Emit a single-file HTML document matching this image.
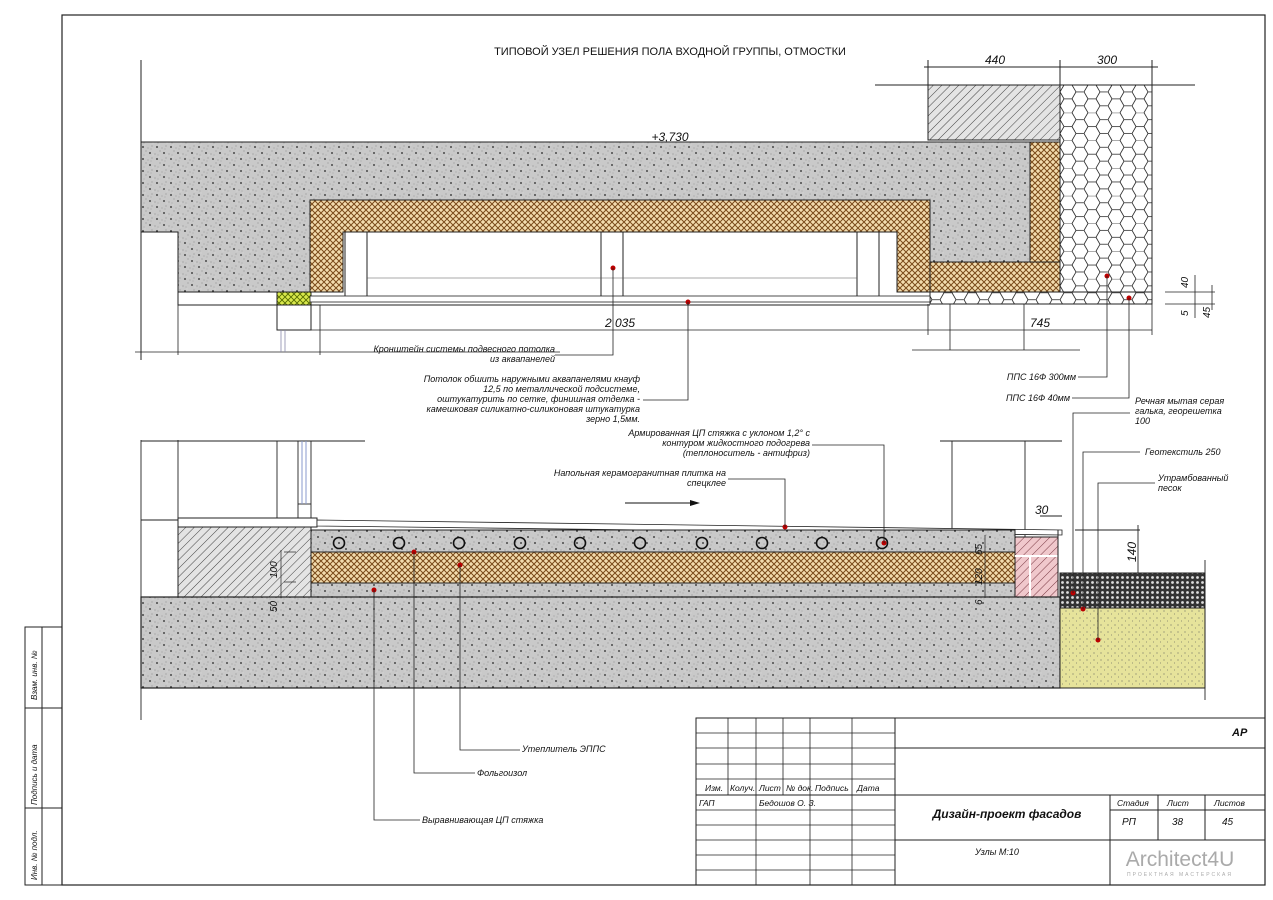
<!DOCTYPE html>
<html><head><meta charset="utf-8">
<style>
html,body{margin:0;padding:0;background:#fff;}
svg{display:block;}
text{font-family:"Liberation Sans","DejaVu Sans",sans-serif;font-style:italic;fill:#111;}
</style></head>
<body>
<svg width="1273" height="900" viewBox="0 0 1273 900" xmlns="http://www.w3.org/2000/svg">
<defs>
<pattern id="conc" width="14" height="12" patternUnits="userSpaceOnUse">
<rect width="14" height="12" fill="#c9c9c9"/>
<circle cx="3" cy="3" r="0.9" fill="#222"/><circle cx="10" cy="9" r="0.9" fill="#222"/>
<circle cx="6" cy="7" r="0.5" fill="#777"/><circle cx="12" cy="2" r="0.5" fill="#777"/><circle cx="1" cy="10" r="0.5" fill="#777"/><circle cx="8" cy="4" r="0.5" fill="#888"/>
<circle cx="4" cy="11" r="0.5" fill="#999"/><circle cx="11" cy="5" r="0.5" fill="#999"/><circle cx="13" cy="11" r="0.4" fill="#eee"/><circle cx="5" cy="1" r="0.4" fill="#eee"/>
</pattern>
<pattern id="ins" width="6" height="6" patternUnits="userSpaceOnUse">
<rect width="6" height="6" fill="#f3dcae"/>
<path d="M0 0L6 6M6 0L0 6" stroke="#7a4a1a" stroke-width="1"/>
</pattern>
<pattern id="ygr" width="6" height="6" patternUnits="userSpaceOnUse">
<rect width="6" height="6" fill="#d8e84a"/>
<path d="M0 0L6 6M6 0L0 6" stroke="#556b00" stroke-width="0.9"/>
</pattern>
<pattern id="hat" width="6" height="6" patternUnits="userSpaceOnUse" patternTransform="rotate(45)">
<rect width="6" height="6" fill="#e4e4e4"/><line x1="0" y1="0" x2="0" y2="6" stroke="#444" stroke-width="1"/>
</pattern>
<pattern id="brick" width="6" height="6" patternUnits="userSpaceOnUse" patternTransform="rotate(45)">
<rect width="6" height="6" fill="#f0c8cc"/><line x1="0" y1="0" x2="0" y2="6" stroke="#7a3a44" stroke-width="1"/>
</pattern>
<pattern id="hex" width="24" height="27.7" patternUnits="userSpaceOnUse" x="1060" y="85">
<rect width="24" height="27.7" fill="#fff"/>
<path d="M4 0L12 0L16 6.9L12 13.85L4 13.85L0 6.9Z M16 6.9L24 6.9 M12 13.85L16 20.8L12 27.7 M16 20.8L24 20.8 M4 13.85L0 20.8L4 27.7" fill="none" stroke="#222" stroke-width="0.8"/>
</pattern>
<pattern id="grav" width="5" height="5" patternUnits="userSpaceOnUse">
<rect width="5" height="5" fill="#333"/><circle cx="2.5" cy="2.5" r="1.4" fill="#ddd"/>
</pattern>
<pattern id="sand" width="7" height="7" patternUnits="userSpaceOnUse">
<rect width="7" height="7" fill="#e6e39b"/><circle cx="2" cy="2" r="0.6" fill="#776"/><circle cx="5.5" cy="5" r="0.5" fill="#776"/>
</pattern>
</defs>

<!-- frame -->
<rect x="62" y="15" width="1203" height="870" fill="none" stroke="#222" stroke-width="1.2"/>
<rect x="25" y="627" width="37" height="258" fill="none" stroke="#222" stroke-width="1"/>
<line x1="42" y1="627" x2="42" y2="885" stroke="#222"/>
<line x1="25" y1="708" x2="62" y2="708" stroke="#222"/>
<line x1="25" y1="808" x2="62" y2="808" stroke="#222"/>
<text transform="translate(37,700) rotate(-90)" font-size="8">Взам. инв. №</text>
<text transform="translate(37,805) rotate(-90)" font-size="8">Подпись и дата</text>
<text transform="translate(37,880) rotate(-90)" font-size="8">Инв. № подл.</text>

<text x="670" y="55" font-size="11" text-anchor="middle" style="font-style:normal">ТИПОВОЙ УЗЕЛ РЕШЕНИЯ ПОЛА ВХОДНОЙ ГРУППЫ, ОТМОСТКИ</text>

<!-- ===== TOP DRAWING ===== -->
<g stroke="#222" stroke-width="1" fill="none">
<line x1="141" y1="60" x2="141" y2="360"/>
<line x1="875" y1="85" x2="1195" y2="85"/>
<line x1="924" y1="67" x2="1158" y2="67"/>
<line x1="928" y1="60" x2="928" y2="85"/><line x1="1060" y1="60" x2="1060" y2="85"/><line x1="1152" y1="60" x2="1152" y2="85"/>
</g>
<text x="995" y="64" font-size="12" text-anchor="middle">440</text>
<text x="1107" y="64" font-size="12" text-anchor="middle">300</text>
<rect x="928" y="85" width="132" height="55" fill="url(#hat)" stroke="#222"/>
<rect x="1060" y="85" width="92" height="207" fill="url(#hex)" stroke="#222"/>
<rect x="930" y="292" width="222" height="12" fill="url(#hex)" stroke="#222"/>
<path d="M141 142H1030V262H930V200H310V292H178V232H141Z" fill="url(#conc)" stroke="#222"/>
<path d="M310 200H930V292H897V232H343V292H310Z" fill="url(#ins)" stroke="#222"/>
<path d="M930 262H1060V292H930Z M1030 142H1060V262H1030Z" fill="url(#ins)" stroke="#222"/>
<text x="670" y="141" font-size="12" text-anchor="middle">+3,730</text>
<g fill="#fff" stroke="#222">
<rect x="345" y="232" width="22" height="68"/><rect x="601" y="232" width="22" height="68"/><rect x="857" y="232" width="22" height="68"/>
<rect x="178" y="292" width="99" height="13"/>
<rect x="277" y="305" width="34" height="25"/>
</g>
<line x1="367" y1="278" x2="857" y2="278" stroke="#555" stroke-width="0.6"/>
<rect x="277" y="292" width="34" height="13" fill="url(#ygr)" stroke="#222"/>
<rect x="310" y="296" width="620" height="6" fill="#fff" stroke="#222" stroke-width="0.8"/>
<line x1="310" y1="305" x2="930" y2="305" stroke="#222"/>
<g stroke="#222" stroke-width="0.8" fill="none">
<line x1="178" y1="305" x2="178" y2="355"/><line x1="320" y1="305" x2="320" y2="355"/>
<line x1="311" y1="330" x2="1152" y2="330"/>
<line x1="928" y1="304" x2="928" y2="335"/><line x1="1152" y1="304" x2="1152" y2="335"/>
<line x1="950" y1="304" x2="950" y2="350"/><line x1="1024" y1="304" x2="1024" y2="350"/>
<line x1="135" y1="352" x2="560" y2="352"/>
<line x1="912" y1="350" x2="1080" y2="350"/>
<line x1="1165" y1="292" x2="1215" y2="292"/><line x1="1165" y1="304" x2="1215" y2="304"/>
<line x1="1195" y1="275" x2="1195" y2="318"/><line x1="1212" y1="285" x2="1212" y2="310"/>
<line x1="281" y1="330" x2="281" y2="352" stroke="#88a"/><line x1="285" y1="330" x2="285" y2="352" stroke="#88a"/>
</g>
<text x="620" y="327" font-size="12" text-anchor="middle">2 035</text>
<text x="1040" y="327" font-size="12" text-anchor="middle">745</text>
<text transform="translate(1188,288) rotate(-90)" font-size="10">40</text>
<text transform="translate(1188,316) rotate(-90)" font-size="10">5</text>
<text transform="translate(1210,318) rotate(-90)" font-size="10">45</text>
<g fill="#b00"><circle cx="613" cy="268" r="2.5"/><circle cx="688" cy="302" r="2.5"/><circle cx="1107" cy="276" r="2.5"/><circle cx="1129" cy="298" r="2.5"/></g>
<g stroke="#222" stroke-width="0.8" fill="none">
<polyline points="613,268 613,355 555,355"/>
<polyline points="688,302 688,400 643,400"/>
<polyline points="1107,276 1107,377 1078,377"/>
<polyline points="1129,298 1129,398 1072,398"/>
</g>
<text x="555" y="352" font-size="9" text-anchor="end">Кронштейн системы подвесного потолка</text>
<text x="555" y="362" font-size="9" text-anchor="end">из аквапанелей</text>
<g font-size="9" text-anchor="end">
<text x="640" y="382">Потолок обшить наружными аквапанелями кнауф</text>
<text x="640" y="392">12,5 по металлической подсистеме,</text>
<text x="640" y="402">оштукатурить по сетке, финишная отделка -</text>
<text x="640" y="412">камешковая силикатно-силиконовая штукатурка</text>
<text x="640" y="422">зерно 1,5мм.</text>
</g>
<text x="1076" y="380" font-size="9" text-anchor="end">ППС 16Ф 300мм</text>
<text x="1070" y="401" font-size="9" text-anchor="end">ППС 16Ф 40мм</text>

<!-- ===== BOTTOM DRAWING ===== -->
<g stroke="#222" stroke-width="0.9" fill="none">
<line x1="141" y1="440" x2="141" y2="720"/>
<line x1="178" y1="440" x2="178" y2="520"/>
<line x1="141" y1="441" x2="365" y2="441"/>
<line x1="277" y1="441" x2="277" y2="518"/>
<line x1="298" y1="441" x2="298" y2="518"/><line x1="311" y1="441" x2="311" y2="518"/>
<line x1="298" y1="504" x2="311" y2="504"/>
<line x1="141" y1="520" x2="178" y2="520"/>
<line x1="940" y1="441" x2="1062" y2="441"/>
<line x1="952" y1="441" x2="952" y2="595"/><line x1="1025" y1="441" x2="1025" y2="595"/>
<line x1="1075" y1="530" x2="1140" y2="530"/>
<line x1="1138" y1="525" x2="1138" y2="575"/>
<line x1="1205" y1="560" x2="1205" y2="700"/>
<line x1="1040" y1="516" x2="1062" y2="516"/>
</g>
<line x1="302" y1="441" x2="302" y2="504" stroke="#89c"/><line x1="306" y1="441" x2="306" y2="504" stroke="#89c"/>
<rect x="178" y="518" width="139" height="9" fill="#fff" stroke="#222"/>
<path d="M317 520L1062 530V535L317 526Z" fill="#fff" stroke="#222" stroke-width="0.8"/>
<rect x="178" y="527" width="133" height="70" fill="url(#hat)" stroke="#222"/>
<rect x="311" y="530" width="704" height="67" fill="url(#conc)" stroke="#222"/>
<rect x="311" y="552" width="704" height="31" fill="url(#ins)" stroke="#222"/>
<rect x="1015" y="537" width="43" height="60" fill="url(#brick)" stroke="#222"/>
<g stroke="#fff" stroke-width="2"><line x1="1015" y1="556" x2="1058" y2="556"/><line x1="1030" y1="556" x2="1030" y2="597"/></g>
<line x1="1058" y1="530" x2="1058" y2="597" stroke="#222"/>
<rect x="141" y="597" width="919" height="91" fill="url(#conc)" stroke="#222" stroke-width="1.2"/>
<rect x="1060" y="573" width="145" height="35" fill="url(#grav)" stroke="#222"/>
<rect x="1060" y="608" width="145" height="80" fill="url(#sand)" stroke="#222"/>
<g fill="none" stroke="#111" stroke-width="1.6">
<circle cx="339" cy="543" r="5.5"/><circle cx="399" cy="543" r="5.5"/><circle cx="459" cy="543" r="5.5"/><circle cx="520" cy="543" r="5.5"/><circle cx="580" cy="543" r="5.5"/><circle cx="640" cy="543" r="5.5"/><circle cx="702" cy="543" r="5.5"/><circle cx="762" cy="543" r="5.5"/><circle cx="822" cy="543" r="5.5"/><circle cx="882" cy="543" r="5.5"/>
</g>
<g stroke="#222" stroke-width="0.7" fill="none"><line x1="281" y1="550" x2="281" y2="598"/><line x1="284" y1="552" x2="296" y2="552"/><line x1="284" y1="582" x2="296" y2="582"/><line x1="985" y1="535" x2="985" y2="598"/></g>
<text transform="translate(277,578) rotate(-90)" font-size="10">100</text>
<text transform="translate(277,612) rotate(-90)" font-size="10">50</text>
<text transform="translate(982,555) rotate(-90)" font-size="10">65</text>
<text transform="translate(982,585) rotate(-90)" font-size="10">120</text>
<text transform="translate(982,605) rotate(-90)" font-size="10">6</text>
<text x="1035" y="514" font-size="12">30</text>
<text transform="translate(1136,562) rotate(-90)" font-size="12">140</text>
<line x1="625" y1="503" x2="690" y2="503" stroke="#111"/><path d="M690 500L700 503L690 506Z" fill="#111"/>
<g fill="#b00"><circle cx="785" cy="527" r="2.5"/><circle cx="884" cy="543" r="2.5"/><circle cx="414" cy="552" r="2.5"/><circle cx="460" cy="565" r="2.5"/><circle cx="374" cy="590" r="2.5"/><circle cx="1073" cy="593" r="2.5"/><circle cx="1083" cy="609" r="2.5"/><circle cx="1098" cy="640" r="2.5"/></g>
<g stroke="#222" stroke-width="0.8" fill="none">
<polyline points="785,527 785,479 728,479"/>
<polyline points="884,543 884,445 812,445"/>
<polyline points="460,565 460,750 520,750"/>
<polyline points="414,552 414,773 475,773"/>
<polyline points="374,590 374,820 420,820"/>
<polyline points="1073,593 1073,413 1130,413"/>
<polyline points="1083,609 1083,452 1140,452"/>
<polyline points="1098,640 1098,483 1155,483"/>
</g>
<g font-size="9">
<text x="810" y="436" text-anchor="end">Армированная ЦП стяжка с уклоном 1,2° с</text>
<text x="810" y="446" text-anchor="end">контуром жидкостного подогрева</text>
<text x="810" y="456" text-anchor="end">(теплоноситель - антифриз)</text>
<text x="726" y="476" text-anchor="end">Напольная керамогранитная плитка на</text>
<text x="726" y="486" text-anchor="end">спецклее</text>
<text x="1135" y="404">Речная мытая серая</text>
<text x="1135" y="414">галька, георешетка</text>
<text x="1135" y="424">100</text>
<text x="1145" y="455">Геотекстиль 250</text>
<text x="1158" y="481">Утрамбованный</text>
<text x="1158" y="491">песок</text>
<text x="522" y="752">Утеплитель ЭППС</text>
<text x="477" y="776">Фольгоизол</text>
<text x="422" y="823">Выравнивающая ЦП стяжка</text>
</g>

<!-- ===== TITLE BLOCK ===== -->
<g stroke="#222" stroke-width="1" fill="none">
<rect x="696" y="718" width="569" height="167"/>
<line x1="895" y1="718" x2="895" y2="885"/>
<line x1="895" y1="748" x2="1265" y2="748"/>
<line x1="696" y1="795" x2="1265" y2="795"/>
<line x1="895" y1="840" x2="1265" y2="840"/>
<line x1="1110" y1="795" x2="1110" y2="885"/>
<line x1="1110" y1="810" x2="1265" y2="810"/>
<line x1="1158" y1="795" x2="1158" y2="840"/><line x1="1205" y1="795" x2="1205" y2="840"/>
<g stroke-width="0.8">
<line x1="696" y1="733" x2="895" y2="733"/><line x1="696" y1="748" x2="895" y2="748"/><line x1="696" y1="764" x2="895" y2="764"/><line x1="696" y1="779" x2="895" y2="779"/>
<line x1="696" y1="810" x2="895" y2="810"/><line x1="696" y1="825" x2="895" y2="825"/><line x1="696" y1="840" x2="895" y2="840"/><line x1="696" y1="855" x2="895" y2="855"/><line x1="696" y1="870" x2="895" y2="870"/>
<line x1="728" y1="718" x2="728" y2="795"/><line x1="756" y1="718" x2="756" y2="885"/><line x1="783" y1="718" x2="783" y2="795"/><line x1="810" y1="718" x2="810" y2="885"/><line x1="852" y1="718" x2="852" y2="885"/>
</g>
</g>
<g font-size="8.5">
<text x="705" y="791">Изм.</text><text x="730" y="791">Колуч.</text><text x="759" y="791">Лист</text><text x="786" y="791">№ док.</text><text x="815" y="791">Подпись</text><text x="857" y="791">Дата</text>
<text x="699" y="806">ГАП</text><text x="759" y="806">Бедошов О. З.</text>
<text x="1117" y="806">Стадия</text><text x="1167" y="806">Лист</text><text x="1214" y="806">Листов</text>
<text x="1122" y="825" font-size="10">РП</text><text x="1172" y="825" font-size="10">38</text><text x="1222" y="825" font-size="10">45</text>
<text x="975" y="855" font-size="9">Узлы М:10</text>
</g>
<text x="1007" y="818" font-size="12" font-weight="bold" text-anchor="middle">Дизайн-проект фасадов</text>
<text x="1232" y="736" font-size="11" font-weight="bold">АР</text>
<text x="1180" y="866" font-size="21" text-anchor="middle" style="font-style:normal;fill:#aaa">Architect4U</text>
<text x="1180" y="876" font-size="5" text-anchor="middle" style="font-style:normal;fill:#aaa;letter-spacing:2px">ПРОЕКТНАЯ МАСТЕРСКАЯ</text>
</svg>
</body></html>
